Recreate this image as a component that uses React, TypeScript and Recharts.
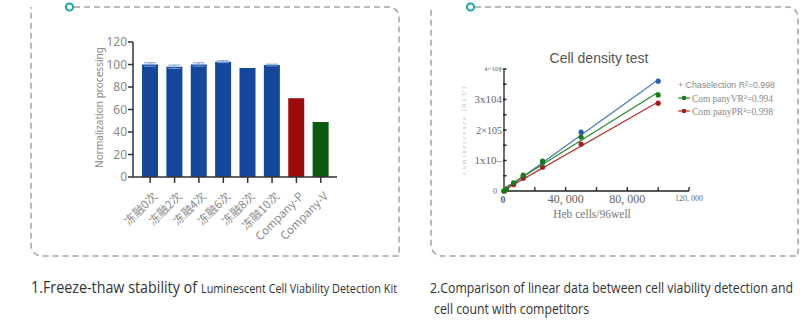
import React from 'react';
import { BarChart, Bar, XAxis, YAxis, Cell, ErrorBar, ScatterChart, Scatter } from 'recharts';

// ---- Chart 1: freeze-thaw stability ----
const freezeCategories = ['冻融0次', '冻融2次', '冻融4次', '冻融6次', '冻融8次', '冻融10次', 'Company-P', 'Company-V'];
const freezeValues = [100, 98, 100, 102.5, 97, 99.5, 70, 49];
const freezeErrors: (number | null)[] = [1.5, 1.5, 1.5, 0.8, null, 0.8, null, null];
const freezeColors = ['#17479a', '#17479a', '#17479a', '#17479a', '#17479a', '#17479a', '#9c0a0a', '#0b5a12'];
const freezeYTicks = [0, 20, 40, 60, 80, 100, 120];

// ---- Chart 2: cell density test ----
const cellCounts = [0, 1563, 6250, 12500, 25000, 50000, 100000];
const chaselectionRLU = [0, 6000, 24000, 48000, 93000, 193000, 360000];
const companyVRLU = [0, 5000, 27000, 52000, 98000, 177000, 315000];
const companyPRLU = [0, 4000, 21000, 42000, 78000, 154000, 288000];
const densityXTicks = [0, 20000, 40000, 60000, 80000, 100000, 120000];
const densityXLabels: Record<number, string> = { 0: '0', 40000: '40, 000', 80000: '80, 000', 120000: '120, 000' };
const densityYTicks = [0, 50000, 100000, 150000, 200000, 250000, 300000, 350000, 400000];
const densityYLabels: Record<number, string> = { 0: '0', 100000: '1x10–', 200000: '2×105', 300000: '3x104', 400000: '4×10§' };
const legendLabels = ['+ Chaselection R²=0.998', 'Com panyVR²=0.994', 'Com panyPR²=0.998'];

const freezeData = freezeCategories.map((name, i) => ({ name, value: freezeValues[i], err: freezeErrors[i] }));
const toPoints = (vals: number[]) => cellCounts.map((x, i) => ({ x, y: vals[i] }));

const GRAY = '#8a8a8a';
const SERIF = '"Liberation Serif", "DejaVu Serif", serif';
const SANS = '"Liberation Sans", Arial, sans-serif';
const CAPTION = '"Open Sans", "Noto Sans", sans-serif';

const FreezeXTick = (props: any) => {
  const { x, y, payload } = props;
  return (
    <text
      x={0}
      y={0}
      transform={`translate(${x + 8} ${y + 12}) rotate(-45)`}
      textAnchor="end"
      fontSize={11.5}
      fill={GRAY}
      fontFamily='"Noto Sans CJK SC", "Noto Sans", sans-serif'
    >
      {payload.value}
    </text>
  );
};

const DensityXTick = (props: any) => {
  const { x, y, payload } = props;
  const v = payload.value as number;
  const label = densityXLabels[v];
  const small = v === 120000;
  return (
    <g>
      {v !== 0 && <line x1={x} x2={x} y1={y} y2={y - 4} stroke="#222" strokeWidth={1.3} />}
      {label && (
        <text
          x={v === 0 ? x - 1 : x}
          y={y + (small ? 10 : 12)}
          textAnchor="middle"
          fontSize={small ? 8 : v === 0 ? 10 : 12}
          fontWeight={v === 0 ? 'bold' : 'normal'}
          fill="#666"
          fontFamily={SERIF}
        >
          {label}
        </text>
      )}
    </g>
  );
};

const DensityYTick = (props: any) => {
  const { x, y, payload } = props;
  const v = payload.value as number;
  const label = densityYLabels[v];
  const size = v === 400000 ? 7 : v === 0 ? 8 : v === 200000 ? 10 : 11;
  return (
    <g>
      {v !== 0 && <line x1={x - 1} x2={x + 2.5} y1={y} y2={y} stroke="#222" strokeWidth={1.5} />}
      {label && (
        <text
          x={v === 0 ? x - 7 : x - 2}
          y={y}
          dy={size * 0.35}
          textAnchor="end"
          fontSize={size}
          fill="#666"
          fontFamily={SERIF}
        >
          {label}
        </text>
      )}
    </g>
  );
};

const dot = (color: string) => (p: any) => <circle cx={p.cx} cy={p.cy} r={2.6} fill={color} />;

const boxStroke = { fill: 'none', stroke: '#a3a3a3', strokeWidth: 1.5, strokeDasharray: '6 4' };

// caption text: narrow natural size, stretched vertically to the reference's height
const Caption = ({ x, y, size, width, sy = 1.3, children }: any) => (
  <text
    x={0}
    y={0}
    transform={`translate(${x} ${y}) scale(1 ${sy})`}
    fontSize={size}
    fill="#333"
    fontFamily={CAPTION}
    textLength={width}
    lengthAdjust="spacingAndGlyphs"
  >
    {children}
  </text>
);

export default function App() {
  return (
    <div style={{ position: 'absolute', left: 0, top: 0, width: 809, height: 336, background: '#fff', overflow: 'hidden' }}>
      <svg width={809} height={336} style={{ position: 'absolute', left: 0, top: 0 }}>
        {/* left box */}
        <path d="M74 7 H389 A10 10 0 0 1 399 17 V256 H42 A11 11 0 0 1 31 245 V7" {...boxStroke} />
        <circle cx={69.5} cy={7} r={3.6} fill="#fff" stroke="#19a8a3" strokeWidth={2} />
        {/* right box */}
        <path d="M475 7 H788 A10 10 0 0 1 798 17 V256 H442 A11 11 0 0 1 431 245 V7" {...boxStroke} />
        <circle cx={470.5} cy={7} r={3.6} fill="#fff" stroke="#19a8a3" strokeWidth={2} />
      </svg>

      <div style={{ position: 'absolute', left: 80, top: 30 }}>
        <BarChart width={270} height={222} data={freezeData} margin={{ top: 12, right: 13, left: 0, bottom: 15 }}>
          <XAxis
            dataKey="name"
            interval={0}
            height={60}
            padding={{ left: 5, right: 4 }}
            tickSize={6}
            tickMargin={2}
            axisLine={{ stroke: '#333', strokeWidth: 1.5 }}
            tickLine={{ stroke: '#333', strokeWidth: 1.5 }}
            tick={<FreezeXTick />}
          />
          <YAxis
            width={53}
            domain={[0, 120]}
            ticks={freezeYTicks}
            interval={0}
            tickSize={5}
            tickMargin={1}
            axisLine={{ stroke: '#333', strokeWidth: 1.5 }}
            tickLine={{ stroke: '#333', strokeWidth: 1.5 }}
            tick={{ fill: GRAY, fontSize: 12, fontFamily: '"Noto Sans", sans-serif' }}
          />
          <Bar dataKey="value" barSize={16} isAnimationActive={false}>
            {freezeData.map((d, i) => (
              <Cell key={d.name} fill={freezeColors[i]} />
            ))}
            <ErrorBar dataKey="err" width={6} stroke="#6d9bd6" strokeWidth={1} direction="y" />
          </Bar>
        </BarChart>
      </div>

      <div style={{ position: 'absolute', left: 440, top: 50 }}>
        <ScatterChart width={280} height={180} margin={{ top: 19, right: 31, left: 0, bottom: 9 }}>
          <XAxis
            type="number"
            dataKey="x"
            domain={[0, 120000]}
            ticks={densityXTicks}
            interval={0}
            height={30}
            tickSize={0}
            tickMargin={0}
            tickLine={false}
            axisLine={{ stroke: '#222', strokeWidth: 1.3 }}
            tick={<DensityXTick />}
          />
          <YAxis
            type="number"
            dataKey="y"
            domain={[0, 400000]}
            ticks={densityYTicks}
            interval={0}
            width={64}
            tickSize={0}
            tickMargin={0}
            tickLine={false}
            axisLine={{ stroke: '#222', strokeWidth: 1.3 }}
            tick={<DensityYTick />}
          />
          <Scatter
            data={toPoints(chaselectionRLU)}
            line={{ stroke: '#4a7ab8', strokeWidth: 1.2 }}
            lineType="fitting"
            shape={dot('#2f5ea8')}
            isAnimationActive={false}
          />
          <Scatter
            data={toPoints(companyPRLU)}
            line={{ stroke: '#b03030', strokeWidth: 1.2 }}
            lineType="fitting"
            shape={dot('#a31f1f')}
            isAnimationActive={false}
          />
          <Scatter
            data={toPoints(companyVRLU)}
            line={{ stroke: '#2f8a2f', strokeWidth: 1.2 }}
            lineType="fitting"
            shape={dot('#1b7a1b')}
            isAnimationActive={false}
          />
        </ScatterChart>
      </div>

      <svg width={809} height={336} style={{ position: 'absolute', left: 0, top: 0, pointerEvents: 'none' }}>
        {/* chart 1 y label */}
        <text
          x={99}
          y={107.5}
          transform="rotate(-90 99 107.5)"
          textAnchor="middle"
          dy={4}
          fontSize={11}
          fill={GRAY}
          fontFamily='"Noto Sans", sans-serif'
          textLength={121}
          lengthAdjust="spacingAndGlyphs"
        >
          Normalization processing
        </text>

        {/* chart 2 title & labels */}
        <text x={599} y={63} textAnchor="middle" fontSize={14} fill="#555" fontFamily={SANS}>
          Cell density test
        </text>
        <text x={592} y={218} textAnchor="middle" fontSize={11.5} fill="#777" fontFamily={SERIF}>
          Heb cells/96well
        </text>
        <text
          x={464}
          y={131}
          transform="rotate(-90 464 131)"
          textAnchor="middle"
          dy={2}
          fontSize={6}
          fill="#c9b8a3"
          fontFamily={SERIF}
          textLength={88}
          lengthAdjust="spacing"
        >
          Luminescence (RLU)
        </text>

        {/* legend */}
        <text x={678} y={87.5} fontSize={9.5} fill="#888" fontFamily={SANS} textLength={97} lengthAdjust="spacingAndGlyphs">
          {legendLabels[0]}
        </text>
        <line x1={678} x2={690} y1={98} y2={98} stroke="#2f8a2f" strokeWidth={1.2} />
        <circle cx={684} cy={98} r={2.3} fill="#1b7a1b" />
        <text x={692} y={101.5} fontSize={10.5} fill="#888" fontFamily={SERIF} textLength={81} lengthAdjust="spacingAndGlyphs">
          {legendLabels[1]}
        </text>
        <line x1={678} x2={690} y1={111} y2={111} stroke="#b03030" strokeWidth={1.2} />
        <circle cx={684} cy={111} r={2.3} fill="#a31f1f" />
        <text x={692} y={114.5} fontSize={10.5} fill="#888" fontFamily={SERIF} textLength={81} lengthAdjust="spacingAndGlyphs">
          {legendLabels[2]}
        </text>

        {/* captions */}
        <Caption x={31} y={293} size={12} width={166}>1.Freeze-thaw stability of</Caption>
        <Caption x={201} y={293} size={9.5} sy={1.4} width={196}>Luminescent Cell Viability Detection Kit</Caption>
        <Caption x={430} y={293} size={11} width={363}>2.Comparison of linear data between cell viability detection and</Caption>
        <Caption x={434} y={314} size={11} width={155}>cell count with competitors</Caption>
      </svg>
    </div>
  );
}
